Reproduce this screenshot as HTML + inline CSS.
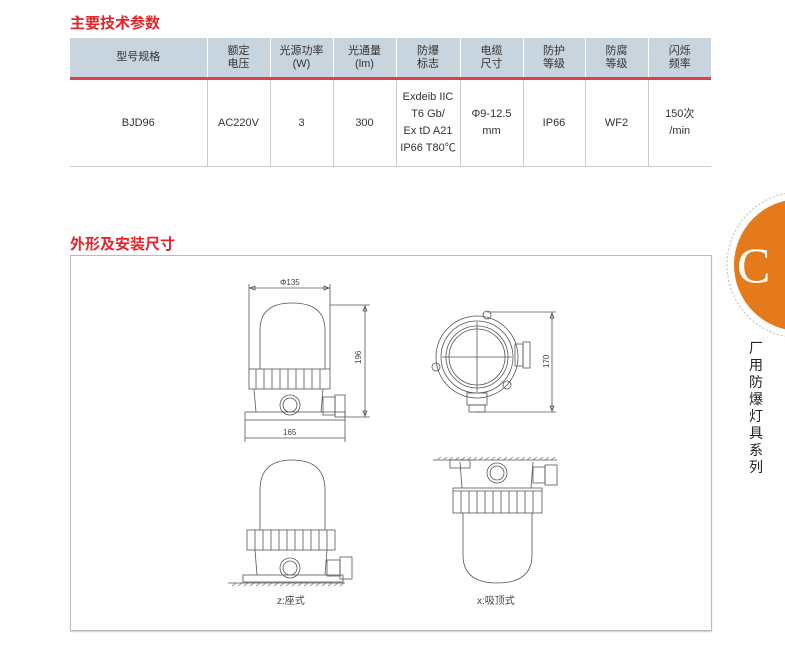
<!DOCTYPE html>
<html><head><meta charset="utf-8"><style>
body{margin:0;width:785px;height:658px;background:#fff;position:relative;overflow:hidden;font-family:"Liberation Sans","Noto Sans CJK SC",sans-serif;}
.t{position:absolute;color:#e0262b;font-size:15px;font-weight:bold;}
table{position:absolute;left:70px;top:38px;width:641px;table-layout:fixed;border-collapse:collapse;font-size:11px;color:#333;}
th{background:#c8d4de;font-weight:normal;height:39px;padding:0;border-right:1px solid #fff;border-bottom:3px solid #d9424a;line-height:13px;}
td{height:86px;padding:0;text-align:center;border-right:1px solid #ccc;border-bottom:1px solid #ccc;line-height:17px;}
td:last-child,th:last-child{border-right:none}
</style></head><body>
<div class="t" style="left:70px;top:12px">主要技术参数</div>
<table>
<colgroup><col style="width:137px"><col style="width:63px"><col style="width:63px"><col style="width:63px"><col style="width:64px"><col style="width:63px"><col style="width:62px"><col style="width:63px"><col style="width:63px"></colgroup>
<tr><th>型号规格</th><th>额定<br>电压</th><th>光源功率<br>(W)</th><th>光通量<br>(lm)</th><th>防爆<br>标志</th><th>电缆<br>尺寸</th><th>防护<br>等级</th><th>防腐<br>等级</th><th>闪烁<br>频率</th></tr>
<tr><td>BJD96</td><td>AC220V</td><td>3</td><td>300</td><td>Exdeib IIC<br>T6 Gb/<br>Ex tD A21<br>IP66 T80℃</td><td>Φ9-12.5<br>mm</td><td>IP66</td><td>WF2</td><td>150次<br>/min</td></tr>
</table>
<div class="t" style="left:70px;top:233px">外形及安装尺寸</div>
<div style="position:absolute;left:70px;top:255px;width:640px;height:374px;border:1px solid #bbb;box-shadow:0 1px 1px #ccc"></div>
<svg style="position:absolute;left:0;top:0" width="785" height="658">
<circle cx="800" cy="265" r="73" fill="none" stroke="#bbb" stroke-dasharray="2,2"/>
<circle cx="800" cy="265" r="66" fill="#e57a1c"/>
<text x="737" y="282" font-family="Liberation Serif" font-size="50" fill="#fff">C</text>
<text font-size="14" fill="#222" font-family="Noto Sans CJK SC">
<tspan x="749" y="353">厂</tspan><tspan x="749" y="370">用</tspan><tspan x="749" y="387">防</tspan><tspan x="749" y="404">爆</tspan><tspan x="749" y="421">灯</tspan><tspan x="749" y="438">具</tspan><tspan x="749" y="455">系</tspan><tspan x="749" y="472">列</tspan></text>
<g fill="none" stroke="#555" stroke-width="0.8">
<path d="M260 369 V330 Q260 303 292 303 Q325 303 325 330 V369"/>
<rect x="249" y="369" width="81" height="20"/>
<path d="M256 369v20M264 369v20M272 369v20M280 369v20M288 369v20M296 369v20M304 369v20M312 369v20M320 369v20"/>
<path d="M254 389 L256 412 M323 389 L321 412"/>
<rect x="245" y="412" width="100" height="8"/>
<circle cx="290" cy="405" r="10"/><circle cx="290" cy="405" r="7"/>
<rect x="323" y="397" width="12" height="18"/><rect x="335" y="395" width="10" height="22"/>
<path d="M249 288H330M249 284V369M330 284V369M250 288l5-2v4zM329 288l-5-2v4z"/>
<path d="M330 305H370M345 417H370M365 305V417M365 306l-2 5h4zM365 416l-2-5h4z"/>
<path d="M245 420V442M345 420V442M245 438H345"/>
<circle cx="477" cy="357" r="41"/><circle cx="477" cy="357" r="36"/><circle cx="477" cy="357" r="31"/><circle cx="477" cy="357" r="28"/>
<path d="M477 322V392M442 357H512"/>
<circle cx="487" cy="315" r="4"/><circle cx="436" cy="367" r="4"/><circle cx="507" cy="385" r="4"/>
<rect x="515" y="344" width="8" height="22"/><rect x="523" y="342" width="7" height="26"/>
<rect x="467" y="393" width="20" height="12"/><rect x="469" y="405" width="16" height="7"/>
<path d="M487 312H556M477 412H556M552 312V412M552 313l-2 5h4zM552 411l-2-5h4z"/>
<path d="M260 530 V490 Q260 460 292 460 Q325 460 325 490 V530"/>
<rect x="247" y="530" width="88" height="20"/>
<path d="M255 530v20M263 530v20M271 530v20M279 530v20M287 530v20M295 530v20M303 530v20M311 530v20M319 530v20M327 530v20"/>
<path d="M255 550 L257 575 M327 550 L325 575"/>
<rect x="243" y="575" width="100" height="7"/>
<circle cx="290" cy="568" r="10"/><circle cx="290" cy="568" r="7"/>
<rect x="327" y="560" width="13" height="16"/><rect x="340" y="557" width="12" height="22"/>
<path d="M228 583H345"/>
<path d="M433 460H557"/>
<rect x="450" y="460" width="20" height="8"/>
<path d="M460 462 L462 488 M533 462 L531 488"/>
<circle cx="497" cy="473" r="10"/><circle cx="497" cy="473" r="7"/>
<rect x="533" y="467" width="12" height="16"/><rect x="545" y="465" width="12" height="20"/>
<rect x="453" y="488" width="89" height="25"/>
<path d="M461 491v22M469 491v22M477 491v22M485 491v22M493 491v22M501 491v22M509 491v22M517 491v22M525 491v22M533 491v22M453 491H542"/>
<path d="M463 513 V555 Q463 583 497 583 Q532 583 532 555 V513"/>
</g>
<path d="M232 586l4-3M238 586l4-3M244 586l4-3M250 586l4-3M256 586l4-3M262 586l4-3M268 586l4-3M274 586l4-3M280 586l4-3M286 586l4-3M292 586l4-3M298 586l4-3M304 586l4-3M310 586l4-3M316 586l4-3M322 586l4-3M328 586l4-3M334 586l4-3M340 586l4-3M437 460l4-3M443 460l4-3M449 460l4-3M455 460l4-3M461 460l4-3M467 460l4-3M473 460l4-3M479 460l4-3M485 460l4-3M491 460l4-3M497 460l4-3M503 460l4-3M509 460l4-3M515 460l4-3M521 460l4-3M527 460l4-3M533 460l4-3M539 460l4-3M545 460l4-3M551 460l4-3" stroke="#666" stroke-width="0.6"/>
<g font-size="8" fill="#444">
<text x="280" y="285">Φ135</text>
<text x="283" y="435">165</text>
<text transform="translate(361,364) rotate(-90)">196</text>
<text transform="translate(549,368) rotate(-90)">170</text>
<text x="277" y="604" font-size="10">z:座式</text>
<text x="477" y="604" font-size="10">x:吸顶式</text>
</g>
</svg>
</body></html>
